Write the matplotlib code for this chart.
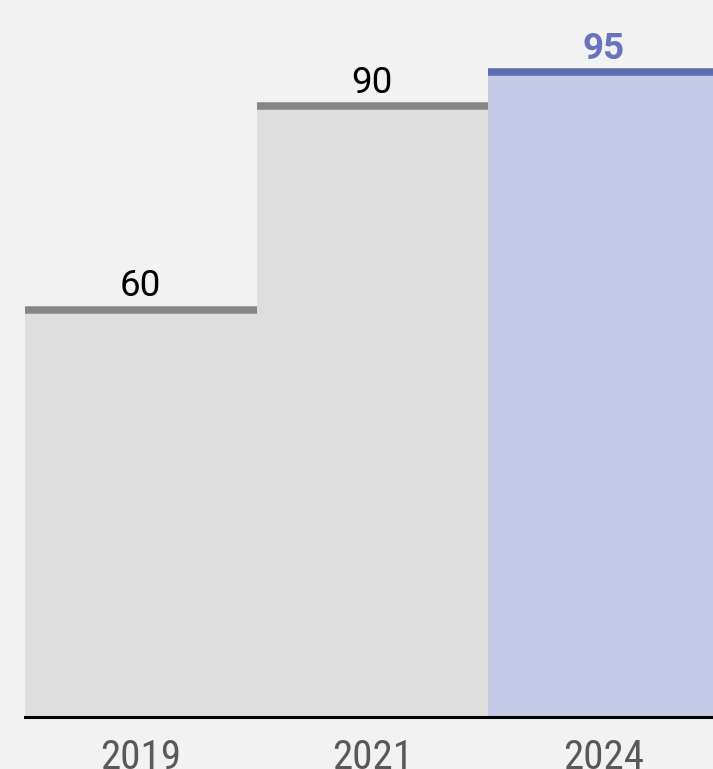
import matplotlib
matplotlib.use("Agg")
import matplotlib.pyplot as plt

# data
years = ["2019", "2021", "2024"]
values = [60, 90, 95]
highlight = [False, False, True]

BG = "#f2f2f2"
FILL_GREY = "#dedede"
LINE_GREY = "#868686"
FILL_BLUE = "#c5cae6"
LINE_BLUE = "#5f6ab0"
TEXT_BLUE = "#6874bd"

W, H = 713, 769
fig = plt.figure(figsize=(W / 100, H / 100), dpi=100, facecolor=BG)
# axes placed in pixel terms: left edge 25px, bottom at 716.5px from top
ax = fig.add_axes([25 / W, (H - 716.5) / H, (W - 25) / W, 716.5 / H])
ax.set_facecolor(BG)

x = list(range(len(years)))
bar_w = 1.0
fills = [FILL_BLUE if h else FILL_GREY for h in highlight]
lines = [LINE_BLUE if h else LINE_GREY for h in highlight]

ax.bar(x, values, width=bar_w, color=fills, linewidth=0, zorder=1)
for xi, v, lc, h in zip(x, values, lines, highlight):
    ax.hlines(v, xi - bar_w / 2, xi + bar_w / 2, color=lc, linewidth=5.4,
              capstyle="butt", zorder=2)
    ax.annotate(str(v), (xi, v), xytext=(0, 9.5), textcoords="offset points",
                ha="center", va="baseline", fontsize=26.5,
                family=["Roboto", "DejaVu Sans"],
                fontweight="bold" if h else "normal",
                color=TEXT_BLUE if h else "black")

ax.set_xlim(-0.5, -0.5 + (W - 25) / 231.5)
ax.set_ylim(0, 716.5 / 6.783)

for s in ["top", "right", "left"]:
    ax.spines[s].set_visible(False)
ax.spines["bottom"].set_color("black")
ax.spines["bottom"].set_linewidth(2.2)
ax.spines["bottom"].set_zorder(3)

ax.set_yticks([])
ax.set_xticks(x)
ax.set_xticklabels(years, fontsize=29.5, color="#595959",
                   family=["Roboto Condensed", "DejaVu Sans"])
ax.tick_params(axis="x", length=0, pad=15.5)

fig.savefig("out.png", dpi=100, facecolor=BG)
